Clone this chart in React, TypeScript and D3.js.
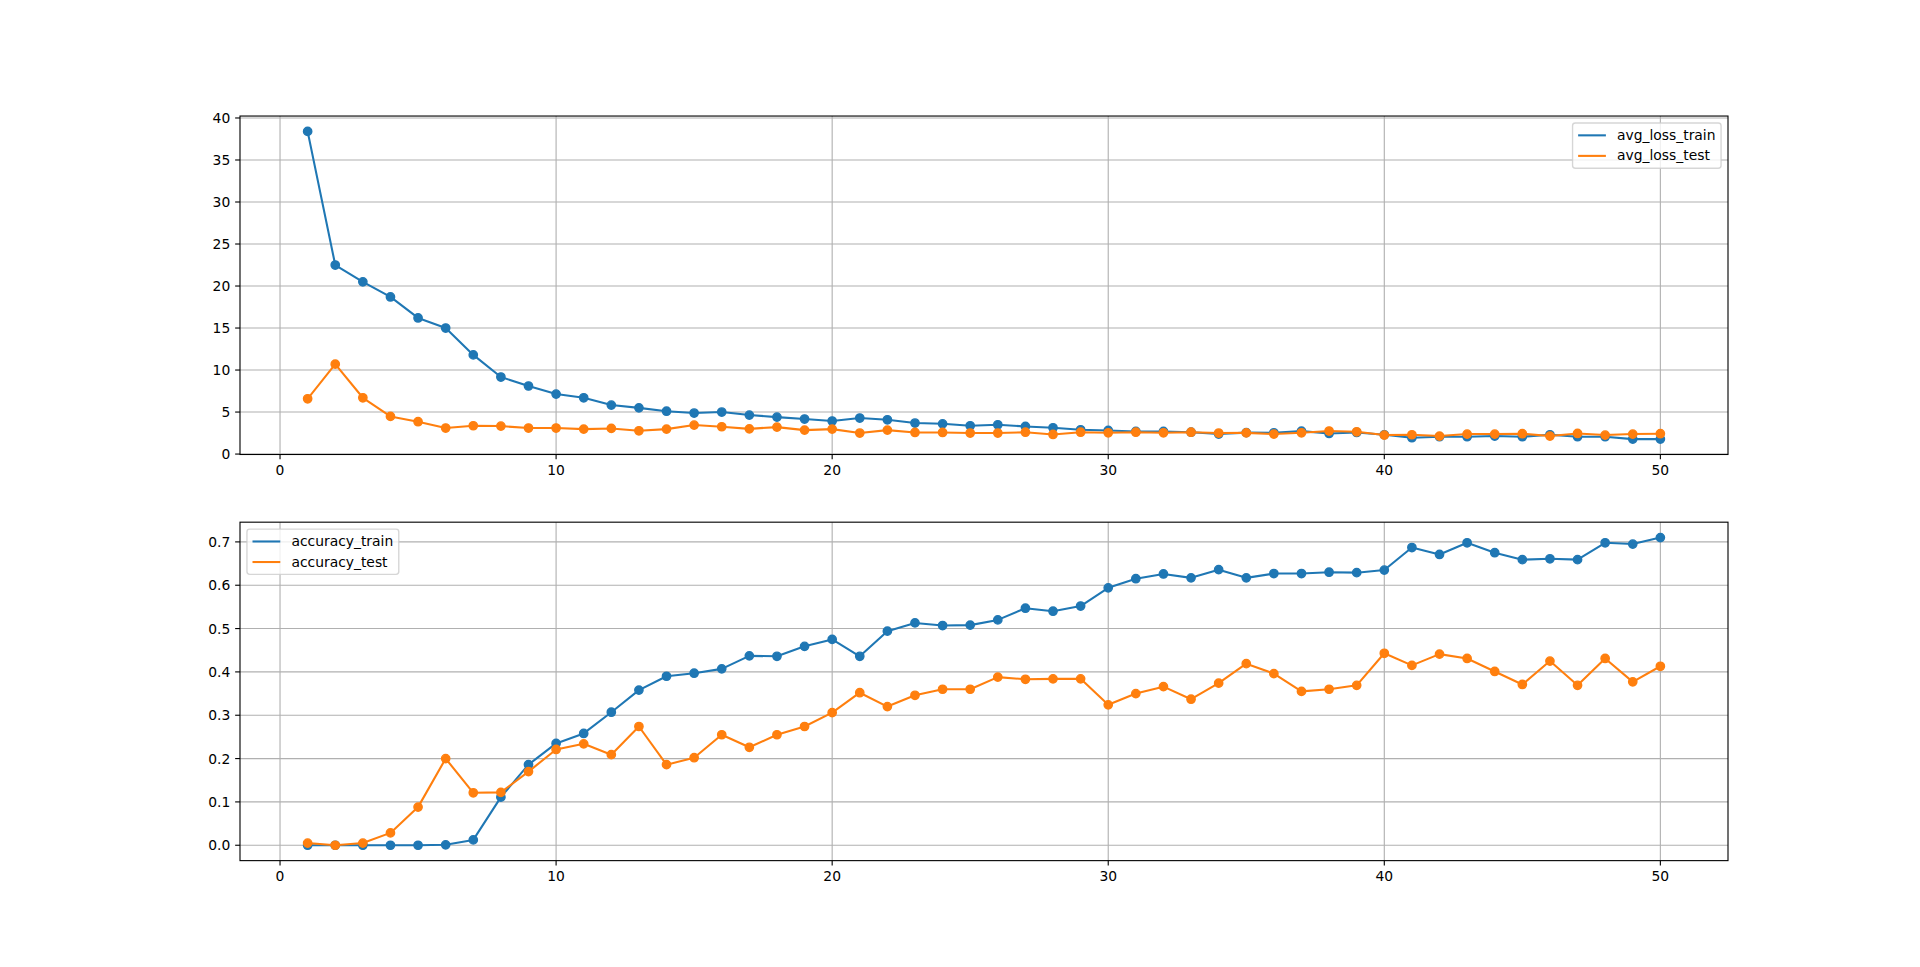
import React from "react";
import * as d3 from "d3";

const lossTrain = [38.4, 22.5, 20.5, 18.7, 16.2, 15.0, 11.8, 9.17, 8.1, 7.14, 6.7, 5.83, 5.5, 5.1, 4.88, 5.0, 4.64, 4.4, 4.17, 3.93, 4.29, 4.08, 3.69, 3.6, 3.37, 3.49, 3.29, 3.13, 2.89, 2.81, 2.69, 2.69, 2.6, 2.38, 2.55, 2.53, 2.73, 2.45, 2.57, 2.3, 1.94, 2.06, 2.06, 2.14, 2.06, 2.3, 2.06, 2.06, 1.78, 1.78];
const lossTest = [6.58, 10.7, 6.7, 4.48, 3.85, 3.1, 3.37, 3.33, 3.1, 3.1, 2.97, 3.05, 2.77, 2.97, 3.45, 3.25, 3.0, 3.21, 2.85, 2.97, 2.5, 2.85, 2.57, 2.57, 2.5, 2.5, 2.6, 2.33, 2.6, 2.53, 2.6, 2.53, 2.6, 2.5, 2.52, 2.38, 2.53, 2.74, 2.65, 2.26, 2.3, 2.14, 2.38, 2.38, 2.42, 2.14, 2.45, 2.26, 2.38, 2.42];
const accTrain = [0, 0, 0, 0, 0, 0.001, 0.0123, 0.111, 0.186, 0.235, 0.258, 0.307, 0.358, 0.39, 0.397, 0.407, 0.437, 0.436, 0.459, 0.475, 0.436, 0.494, 0.513, 0.507, 0.508, 0.52, 0.547, 0.54, 0.552, 0.594, 0.615, 0.626, 0.617, 0.636, 0.617, 0.627, 0.627, 0.63, 0.629, 0.635, 0.687, 0.671, 0.698, 0.675, 0.659, 0.661, 0.659, 0.698, 0.695, 0.71];
const accTest = [0.005, 0, 0.005, 0.0285, 0.088, 0.2, 0.121, 0.122, 0.17, 0.221, 0.234, 0.209, 0.274, 0.186, 0.202, 0.255, 0.226, 0.255, 0.274, 0.306, 0.352, 0.32, 0.346, 0.36, 0.36, 0.388, 0.383, 0.384, 0.384, 0.324, 0.35, 0.366, 0.337, 0.374, 0.419, 0.396, 0.355, 0.36, 0.369, 0.443, 0.415, 0.441, 0.431, 0.401, 0.371, 0.425, 0.369, 0.431, 0.377, 0.413];
const epochs = lossTrain.map((_, i) => i + 1);

const xTicks = [0, 10, 20, 30, 40, 50];
const lossTicks = [0, 5, 10, 15, 20, 25, 30, 35, 40];
const accTicks = [0.0, 0.1, 0.2, 0.3, 0.4, 0.5, 0.6, 0.7];

const lossNames = ["avg_loss_train", "avg_loss_test"];
const accNames = ["accuracy_train", "accuracy_test"];

const W = 1920;
const H = 967;
const PT = 100 / 72;
const FS = 10 * PT;
const FONT = "'DejaVu Sans', sans-serif";
const C1 = "#1f77b4";
const C2 = "#ff7f0e";

function textWidth(s: string) {
  try {
    const c = document.createElement("canvas").getContext("2d");
    if (c) {
      c.font = `${FS}px 'DejaVu Sans'`;
      return c.measureText(s).width;
    }
  } catch (e) {}
  return s.length * FS * 0.62;
}

function pad(ext: [number, number]): [number, number] {
  const m = (ext[1] - ext[0]) * 0.05;
  return [ext[0] - m, ext[1] + m];
}

type PanelProps = {
  top: number;
  bottom: number;
  left: number;
  right: number;
  s1: number[];
  s2: number[];
  names: string[];
  yTicks: number[];
  yFmt: (v: number) => string;
  legendLoc: "right" | "left";
};

function Panel({ top, bottom, left, right, s1, s2, names, yTicks, yFmt, legendLoc }: PanelProps) {
  const x = d3.scaleLinear().domain(pad(d3.extent(epochs) as [number, number])).range([left, right]);
  const all = s1.concat(s2);
  const y = d3.scaleLinear().domain(pad(d3.extent(all) as [number, number])).range([bottom, top]);
  const line = d3.line<number>().x((_, i) => x(epochs[i])).y((d) => y(d));
  const tickLen = 3.5 * PT;
  const tickPad = 3.5 * PT;
  const lw = 1.5 * PT;
  const mr = (6 * PT) / 2;

  // legend
  const bpad = 0.4 * FS;
  const hl = 2.0 * FS;
  const htp = 0.8 * FS;
  const ls = 0.5 * FS;
  const rowH = 13.6;
  const axPad = 0.5 * FS;
  const tw = Math.max(...names.map(textWidth));
  const lw2 = bpad * 2 + hl + htp + tw;
  const lh = bpad * 2 + rowH * 2 + ls;
  const lx = legendLoc === "right" ? right - axPad - lw2 : left + axPad;
  const ly = top + axPad;

  const series = [
    { d: s1, c: C1 },
    { d: s2, c: C2 },
  ];

  return (
    <g>
      <rect x={left} y={top} width={right - left} height={bottom - top} fill="white" />
      <g clipPath="none">
        {xTicks.map((t) => (
          <line key={"gx" + t} x1={x(t)} x2={x(t)} y1={top} y2={bottom} stroke="#b0b0b0" strokeWidth={0.8 * PT} />
        ))}
        {yTicks.map((t) => (
          <line key={"gy" + t} x1={left} x2={right} y1={y(t)} y2={y(t)} stroke="#b0b0b0" strokeWidth={0.8 * PT} />
        ))}
      </g>
      {series.map((s, k) => (
        <g key={"s" + k}>
          <path d={line(s.d) || ""} fill="none" stroke={s.c} strokeWidth={lw} strokeLinejoin="round" strokeLinecap="square" />
          {s.d.map((v, i) => (
            <circle key={i} cx={x(epochs[i])} cy={y(v)} r={mr} fill={s.c} stroke={s.c} strokeWidth={PT} />
          ))}
        </g>
      ))}
      <rect x={left} y={top} width={right - left} height={bottom - top} fill="none" stroke="black" strokeWidth={0.8 * PT} />
      {xTicks.map((t) => (
        <g key={"tx" + t}>
          <line x1={x(t)} x2={x(t)} y1={bottom} y2={bottom + tickLen} stroke="black" strokeWidth={0.8 * PT} />
          <text x={x(t)} y={bottom + tickLen + tickPad} dy="0.76em" textAnchor="middle" fontFamily={FONT} fontSize={FS} fill="black">
            {t}
          </text>
        </g>
      ))}
      {yTicks.map((t) => (
        <g key={"ty" + t}>
          <line x1={left} x2={left - tickLen} y1={y(t)} y2={y(t)} stroke="black" strokeWidth={0.8 * PT} />
          <text x={left - tickLen - tickPad} y={y(t)} dy="0.36em" textAnchor="end" fontFamily={FONT} fontSize={FS} fill="black">
            {yFmt(t)}
          </text>
        </g>
      ))}
      <g>
        <rect x={lx} y={ly} width={lw2} height={lh} rx={0.2 * FS} ry={0.2 * FS} fill="white" fillOpacity={0.8} stroke="#cccccc" strokeOpacity={0.8} strokeWidth={PT} />
        {names.map((n, i) => {
          const cy = ly + bpad + rowH / 2 + i * (rowH + ls);
          return (
            <g key={n}>
              <line x1={lx + bpad} x2={lx + bpad + hl} y1={cy} y2={cy} stroke={i === 0 ? C1 : C2} strokeWidth={lw} />
              <text x={lx + bpad + hl + htp} y={cy} dy="0.33em" fontFamily={FONT} fontSize={FS} fill="black">
                {n}
              </text>
            </g>
          );
        })}
      </g>
    </g>
  );
}

export default function App() {
  const left = 0.125 * W;
  const right = 0.9 * W;
  const figTop = H * (1 - 0.88);
  const figBottom = H * (1 - 0.11);
  const h = (figBottom - figTop) / (2 + 0.2);
  const gap = 0.2 * h;
  const t1 = figTop;
  const b1 = t1 + h;
  const t2 = b1 + gap;
  const b2 = figBottom;
  return (
    <svg width={W} height={H} style={{ position: "absolute", left: 0, top: 0, display: "block", background: "white" }}>
      <rect x={0} y={0} width={W} height={H} fill="white" />
      <Panel top={t1} bottom={b1} left={left} right={right} s1={lossTrain} s2={lossTest} names={lossNames} yTicks={lossTicks} yFmt={(v) => String(v)} legendLoc="right" />
      <Panel top={t2} bottom={b2} left={left} right={right} s1={accTrain} s2={accTest} names={accNames} yTicks={accTicks} yFmt={(v) => v.toFixed(1)} legendLoc="left" />
    </svg>
  );
}
